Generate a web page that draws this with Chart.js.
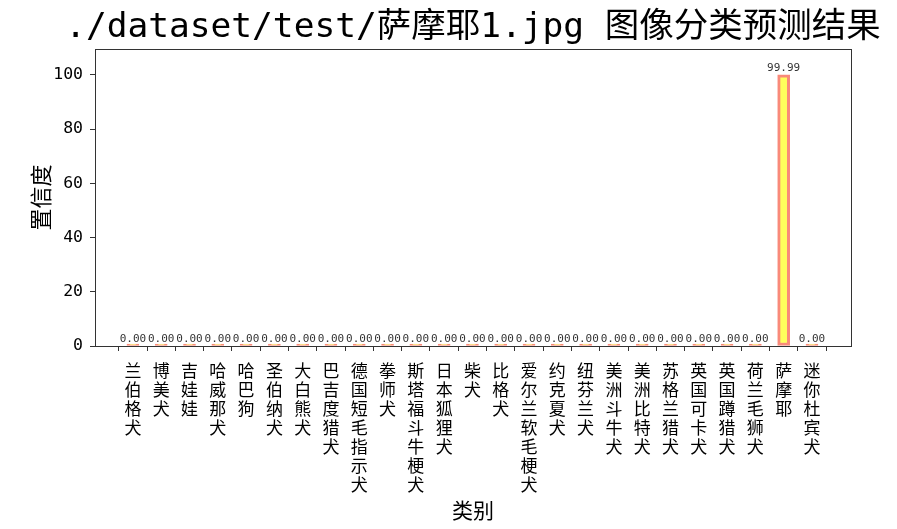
<!DOCTYPE html>
<html>
<head>
<meta charset="utf-8">
<script src="https://cdn.jsdelivr.net/npm/chart.js@4/dist/chart.umd.min.js"></script>
<style>
html,body{margin:0;padding:0;background:#fff;}
#wrap{width:897px;height:529px;position:relative;}
</style>
</head>
<body>
<div id="wrap"><canvas id="c" width="897" height="529"></canvas></div>
<script>
const categories = ['兰伯格犬','博美犬','吉娃娃','哈威那犬','哈巴狗','圣伯纳犬','大白熊犬','巴吉度猎犬','德国短毛指示犬','拳师犬','斯塔福斗牛梗犬','日本狐狸犬','柴犬','比格犬','爱尔兰软毛梗犬','约克夏犬','纽芬兰犬','美洲斗牛犬','美洲比特犬','苏格兰猎犬','英国可卡犬','英国蹲猎犬','荷兰毛狮犬','萨摩耶','迷你杜宾犬'];
const confidence = [0,0,0,0,0,0,0,0,0,0,0,0,0,0,0,0,0,0,0,0,0,0,0,99.99,0];
const yTicks = [0,20,40,60,80,100];
const titleText = './dataset/test/萨摩耶1.jpg 图像分类预测结果';

const MONO = "'DejaVu Sans Mono','Noto Sans CJK SC',sans-serif";
const CJK = "'Noto Sans CJK SC',sans-serif";

const framePlugin = {
  id: 'frame',
  afterDatasetsDraw(chart) {
    const {ctx} = chart;
    const meta = chart.getDatasetMeta(0);
    const ys = chart.scales.y;
    ctx.save();
    ctx.fillStyle = '#333';
    ctx.font = "11px " + MONO;
    ctx.textAlign = 'center';
    ctx.textBaseline = 'bottom';
    meta.data.forEach((el, i) => {
      const v = confidence[i];
      ctx.fillText(v.toFixed(2), el.x, ys.getPixelForValue(v) - 1);
    });
    ctx.restore();
  },
  afterDraw(chart) {
    const {ctx, chartArea: a} = chart;
    ctx.save();
    ctx.strokeStyle = '#333';
    ctx.lineWidth = 1;
    ctx.strokeRect(Math.round(a.left) + 0.5, Math.round(a.top) + 0.5, Math.round(a.right - a.left), Math.round(a.bottom - a.top));
    ctx.fillStyle = '#000';
    ctx.font = "34.5px " + MONO;
    ctx.textAlign = 'center';
    ctx.textBaseline = 'middle';
    ctx.fillText(titleText, (a.left + a.right) / 2, 28);
    ctx.restore();
  }
};

new Chart(document.getElementById('c'), {
  type: 'bar',
  data: {
    datasets: [{
      data: confidence.map((v, i) => ({x: i, y: v})),
      backgroundColor: '#ffff5c',
      borderColor: '#f98a7a',
      borderWidth: 3,
      borderSkipped: false,
      barThickness: 12,
      minBarLength: 2
    }]
  },
  options: {
    responsive: false,
    animation: false,
    layout: {padding: {left: 0, right: 46, top: 49, bottom: 0}},
    plugins: {
      legend: {display: false},
      tooltip: {enabled: false},
      title: {display: false}
    },
    scales: {
      x: {
        type: 'linear',
        min: -1.34,
        max: 25.38,
        offset: false,
        afterFit(s) { s.height = 183; },
        afterBuildTicks(s) { s.ticks = categories.map((_, i) => ({value: i})); },
        ticks: {
          autoSkip: false,
          maxRotation: 0,
          minRotation: 0,
          color: '#000',
          padding: 10,
          font: {family: CJK, size: 17, lineHeight: 1.12},
          callback: (v) => (Number.isInteger(v) && categories[v]) ? categories[v].split('') : ''
        },
        grid: {display: true, drawOnChartArea: false, drawTicks: true, tickLength: 5, color: '#333'},
        border: {display: false},
        title: {display: true, text: '类别', color: '#000', font: {family: CJK, size: 21}, padding: {top: 0, bottom: 6}}
      },
      y: {
        min: 0,
        max: 109.5,
        afterFit(s) { s.width = 95; },
        afterBuildTicks(s) { s.ticks = yTicks.map(v => ({value: v})); },
        ticks: {color: '#000', padding: 7, font: {family: MONO, size: 16.5}},
        grid: {display: true, drawOnChartArea: false, drawTicks: true, tickLength: 5, color: '#333'},
        border: {display: false},
        title: {display: true, text: '置信度', color: '#000', font: {family: CJK, size: 22}, padding: {top: 27, bottom: 27}}
      }
    }
  },
  plugins: [framePlugin]
});
</script>
</body>
</html>
